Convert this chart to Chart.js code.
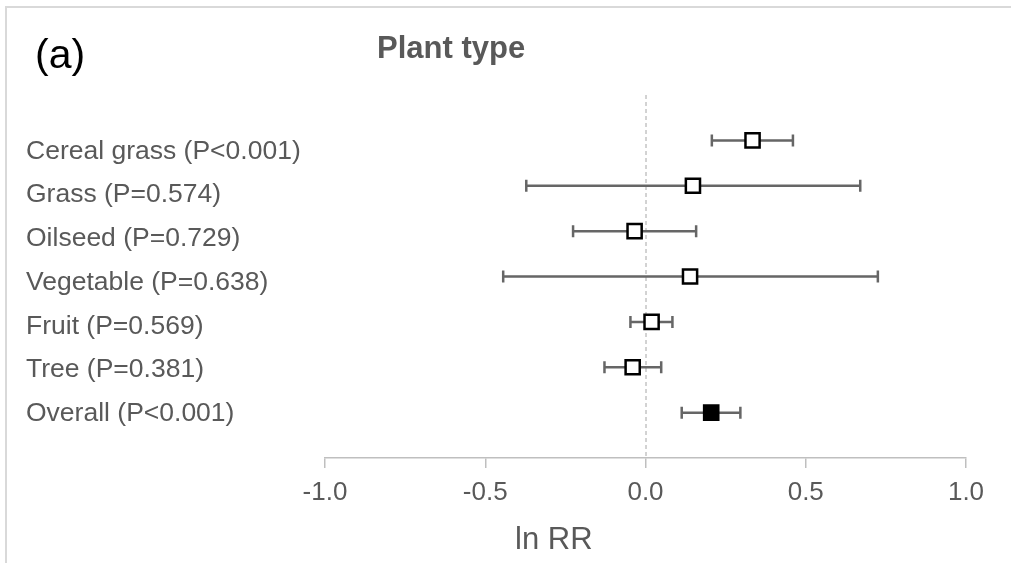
<!DOCTYPE html>
<html>
<head>
<meta charset="utf-8">
<script src="https://cdn.jsdelivr.net/npm/chart.js@4"></script>
<style>
  html, body { margin: 0; padding: 0; background: #fff; }
  #wrap { width: 1011px; height: 563px; position: relative; }
</style>
</head>
<body>
<div id="wrap"><canvas id="forest"></canvas></div>
<script>
// Plant type groups, top to bottom (last row is the pooled estimate)
const groups = [
    'Cereal grass (P<0.001)',
    'Grass (P=0.574)',
    'Oilseed (P=0.729)',
    'Vegetable (P=0.638)',
    'Fruit (P=0.569)',
    'Tree (P=0.381)',
    'Overall (P<0.001)'
];
const effect = [0.334, 0.148, -0.034, 0.139, 0.019, -0.040, 0.205];
const ciLow  = [0.207, -0.372, -0.226, -0.444, -0.047, -0.128, 0.113];
const ciHigh = [0.460, 0.670, 0.158, 0.725, 0.084, 0.049, 0.296];
const xTicks = [-1.0, -0.5, 0.0, 0.5, 1.0];

const FONT = "'Liberation Sans', Arial, sans-serif";
const GREY_TEXT = '#595959';

// row 7 at the top, row 1 at the bottom
const rows = groups.map((g, i) => groups.length - i);
const points = effect.map((v, i) => ({ x: v, y: rows[i] }));
const fills = groups.map((g, i) => i === groups.length - 1 ? '#000000' : '#ffffff');

// Frame, zero line and whiskers
const forestPlugin = {
    id: 'forest',
    beforeDraw(chart) {
        const ctx = chart.ctx;
        ctx.save();
        ctx.fillStyle = '#ffffff';
        ctx.fillRect(0, 0, chart.width, chart.height);
        ctx.strokeStyle = '#d9d9d9';
        ctx.lineWidth = 2;
        ctx.beginPath();
        ctx.moveTo(6, chart.height);
        ctx.lineTo(6, 7);
        ctx.lineTo(chart.width, 7);
        ctx.stroke();
        ctx.restore();
    },
    beforeDatasetsDraw(chart) {
        const ctx = chart.ctx;
        const xs = chart.scales.x;
        const ys = chart.scales.y;
        const area = chart.chartArea;

        // dashed line at no effect
        const x0 = xs.getPixelForValue(0);
        ctx.save();
        ctx.strokeStyle = '#a6a6a6';
        ctx.lineWidth = 1;
        ctx.setLineDash([4, 3]);
        ctx.beginPath();
        ctx.moveTo(x0 + 0.5, area.top);
        ctx.lineTo(x0 + 0.5, area.bottom);
        ctx.stroke();
        ctx.restore();

        // confidence intervals
        ctx.save();
        ctx.strokeStyle = '#666666';
        ctx.lineWidth = 2.5;
        groups.forEach((g, i) => {
            const y = ys.getPixelForValue(rows[i]);
            const xl = xs.getPixelForValue(ciLow[i]);
            const xh = xs.getPixelForValue(ciHigh[i]);
            ctx.beginPath();
            ctx.moveTo(xl, y);
            ctx.lineTo(xh, y);
            ctx.moveTo(xl, y - 6);
            ctx.lineTo(xl, y + 6);
            ctx.moveTo(xh, y - 6);
            ctx.lineTo(xh, y + 6);
            ctx.stroke();
        });
        ctx.restore();
    },
    afterDraw(chart) {
        const ctx = chart.ctx;
        const ys = chart.scales.y;
        ctx.save();
        ctx.textBaseline = 'alphabetic';
        ctx.textAlign = 'left';

        ctx.fillStyle = '#000000';
        ctx.font = '41px ' + FONT;
        ctx.fillText('(a)', 35, 68);

        ctx.fillStyle = GREY_TEXT;
        ctx.font = 'bold 31px ' + FONT;
        ctx.fillText('Plant type', 377, 58);

        ctx.font = '31px ' + FONT;
        ctx.fillText('ln RR', 515, 549);

        // group names, spread slightly wider than the rows
        ctx.font = '26.5px ' + FONT;
        ctx.textBaseline = 'middle';
        const top = ys.getPixelForValue(rows[0]) + 11;
        const bottom = ys.getPixelForValue(rows[rows.length - 1]) + 1;
        groups.forEach((g, i) => {
            const y = top + (bottom - top) * i / (groups.length - 1);
            ctx.fillText(g, 26, y);
        });
        ctx.restore();
    }
};

new Chart(document.getElementById('forest'), {
    type: 'scatter',
    data: {
        datasets: [{
            data: points,
            pointStyle: 'rect',
            pointRadius: 10,
            pointHoverRadius: 10,
            pointBorderWidth: 2.5,
            pointBorderColor: '#000000',
            pointBackgroundColor: fills
        }]
    },
    options: {
        responsive: true,
        maintainAspectRatio: false,
        animation: false,
        events: [],
        layout: {
            padding: { left: 325, right: 45, top: 95, bottom: 0 }
        },
        plugins: {
            legend: { display: false },
            tooltip: { enabled: false }
        },
        scales: {
            x: {
                type: 'linear',
                min: -1,
                max: 1,
                afterBuildTicks: scale => {
                    scale.ticks = xTicks.map(v => ({ value: v }));
                },
                afterFit: scale => {
                    scale.height = 105;
                },
                grid: {
                    drawOnChartArea: false,
                    drawTicks: true,
                    tickLength: 10,
                    color: '#bfbfbf',
                    lineWidth: 1.5
                },
                border: { color: '#bfbfbf', width: 1.5 },
                ticks: {
                    padding: 9,
                    color: GREY_TEXT,
                    font: { family: FONT, size: 26 },
                    callback: v => v.toFixed(1)
                }
            },
            y: {
                type: 'linear',
                min: 0,
                max: 8,
                display: false
            }
        }
    },
    plugins: [forestPlugin]
});
</script>
</body>
</html>
